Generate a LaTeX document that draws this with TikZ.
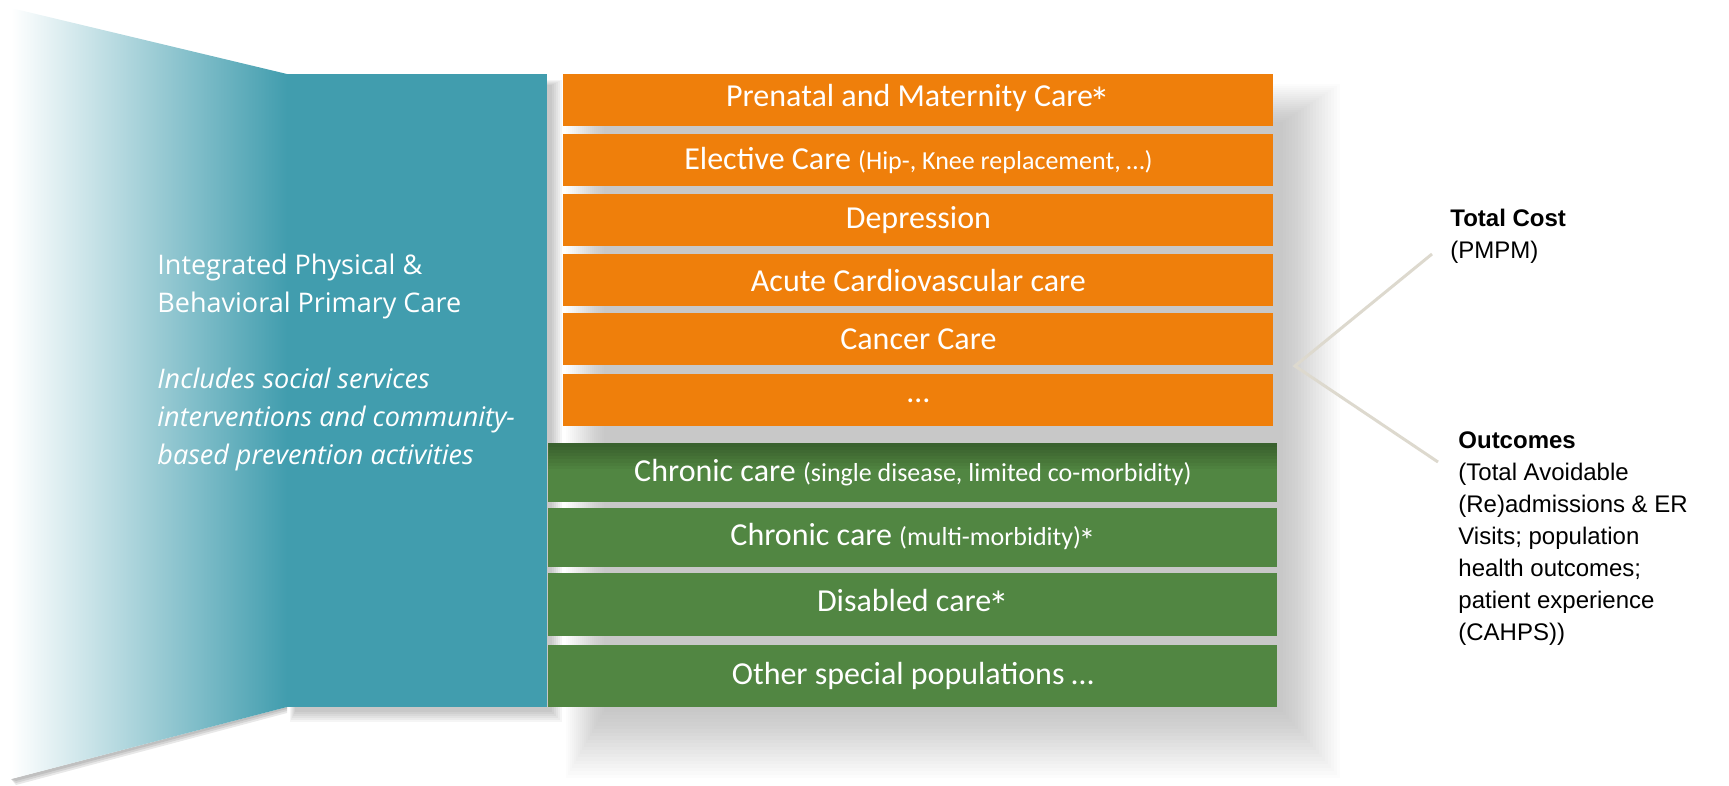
\documentclass[tikz,border=0pt]{standalone}
\usepackage{fontspec}
\setmainfont{Carlito}
\newfontfamily\opensans{Open Sans}
\newfontfamily\arialfont{Liberation Sans}

\definecolor{tealcare}{HTML}{419DAE}
\definecolor{orangecare}{HTML}{EF7F0B}
\definecolor{greencare}{HTML}{518642}
\definecolor{forkline}{HTML}{DDD9CE}

\newcommand{\subnote}[1]{{\fontsize{13}{15}\selectfont #1}}
\newcommand{\starmark}{\kern-0.1em\raisebox{-0.6ex}{\scalebox{1.3}{*}}}

\tikzset{
  acutebox/.style={fill=orangecare, text=white, anchor=north west, inner sep=0pt,
    minimum width=355pt, minimum height=26pt, font=\fontsize{16}{19}\selectfont},
  chronicbox/.style={fill=greencare, text=white, anchor=north west, inner sep=0pt,
    minimum width=364.5pt, font=\fontsize{16}{19}\selectfont},
  sidetext/.style={anchor=north west, inner sep=0pt, align=left,
    font=\arialfont\fontsize{12}{16}\selectfont},
}

\begin{document}
\begin{tikzpicture}[x=0.5pt, y=-0.5pt]
\useasboundingbox (0,0) rectangle (1729,786);

% soft shadows
\foreach \i in {0,...,19}
  \fill[black, opacity=0.013] (566+2*\i,84+2*\i) rectangle (1340-3*\i,778-3.5*\i);
\foreach \i in {0,...,5}
  \fill[black, opacity=0.04] (290+\i,80+\i) rectangle (562-2*\i,722-2*\i);
\foreach \d in {2,4,6}
  \fill[black, opacity=0.09] (16,779+\d) -- (287,707+\d) -- (287,707) -- (11,779) -- cycle;

% primary care panel
\shade[left color=white, right color=tealcare] (11,8) -- (287,74) -- (287,707) -- (11,779) -- cycle;
\node[fill=tealcare, anchor=north west, inner sep=0pt, minimum width=130pt, minimum height=316.5pt] (primary) at (287,74) {};
\node[anchor=north west, inner sep=0pt, align=left, text=white,
  font=\opensans\fontsize{13.5}{19}\selectfont] (primarytext) at (157,254)
  {Integrated Physical \&\\Behavioral Primary Care\\[19pt]
   \textit{Includes social services}\\\textit{interventions and community-}\\\textit{based prevention activities}};

% episode boxes
\node[acutebox] (prenatal) at (563,74) {Prenatal and Maternity Care\starmark};
\node[acutebox] (elective) at (563,134) {Elective Care \subnote{(Hip-, Knee replacement, \dots)}};
\node[acutebox] (depression) at (563,194) {Depression};
\node[acutebox] (cardio) at (563,254) {Acute Cardiovascular care};
\node[acutebox] (cancer) at (563,313) {Cancer Care};
\node[acutebox] (moreacute) at (563,374) {\dots};

% population boxes
\node[chronicbox, minimum height=29.5pt, path picture={
    \foreach \k in {1,...,8}
      \fill[black, opacity=0.035] (path picture bounding box.north west)
        rectangle ([yshift=-1.6*\k pt]path picture bounding box.north east);}]
  (chronicsingle) at (548,443) {Chronic care \subnote{(single disease, limited co-morbidity)}};
\node[chronicbox, minimum height=29.5pt] (chronicmulti) at (548,508) {Chronic care \subnote{(multi-morbidity)\starmark}};
\node[chronicbox, minimum height=31.5pt] (disabled) at (548,573) {Disabled care\starmark};
\node[chronicbox, minimum height=31pt] (special) at (548,645) {Other special populations \dots};

% measures
\node[sidetext] (cost) at (1450,209) {\textbf{Total Cost}\\(PMPM)};
\node[sidetext] (outcomes) at (1458,431) {\textbf{Outcomes}\\(Total Avoidable\\(Re)admissions \& ER\\Visits; population\\health outcomes;\\patient experience\\(CAHPS))};

\coordinate (fork) at (1295,366);
\coordinate (costend) at (1432,254);
\coordinate (outend) at (1438,462);
\draw[forkline, line width=1.5pt] (costend) -- (fork) -- (outend);
\end{tikzpicture}
\end{document}
